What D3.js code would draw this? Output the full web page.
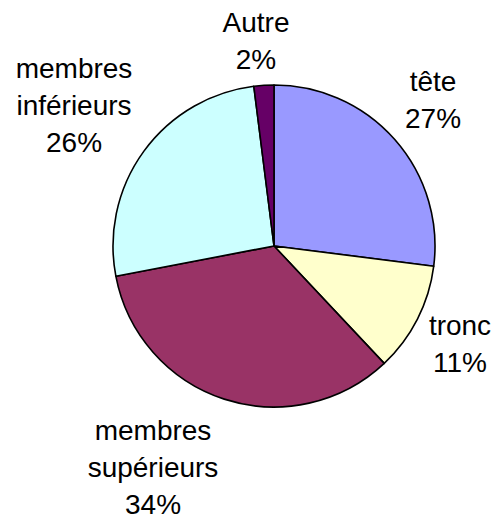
<!DOCTYPE html>
<html>
<head>
<meta charset="utf-8">
<script src="https://cdn.jsdelivr.net/npm/d3@7"></script>
<style>
  html, body { margin: 0; padding: 0; background: #fff; }
  svg { display: block; }
  text { font-family: "Liberation Sans", Arial, sans-serif; font-size: 28px; fill: #000; }
</style>
</head>
<body>
<div id="chart"></div>
<script>
// parts of the body, clockwise from 12 o'clock
const categories = ["tête", "tronc", "membres supérieurs", "membres inférieurs", "Autre"];
const labelLines = [["tête"], ["tronc"], ["membres", "supérieurs"], ["membres", "inférieurs"], ["Autre"]];
const values = [27, 11, 34, 26, 2];

(function () {
  const width = 493;
  const height = 523;
  const cx = 274;
  const cy = 246;
  const radius = 161;
  const lineHeight = 37;

  const colors = d3.scaleOrdinal()
    .domain(categories)
    .range(["#9999ff", "#ffffcc", "#993366", "#ccffff", "#660066"]);

  // offset of each label block (centre x, first baseline) from the pie centre
  const labelOffset = {
    "tête": [159, -155],
    "tronc": [186, 89],
    "membres supérieurs": [-121, 194],
    "membres inférieurs": [-200, -168],
    "Autre": [-18, -214],
  };

  const svg = d3.select("#chart")
    .append("svg")
    .attr("width", width)
    .attr("height", height);

  const data = categories.map((c, i) => ({ name: c, value: values[i], lines: labelLines[i] }));

  const pie = d3.pie().value((d) => d.value).sort(null);
  const arc = d3.arc().innerRadius(0).outerRadius(radius);

  const g = svg.append("g").attr("transform", `translate(${cx},${cy})`);

  g.selectAll("path")
    .data(pie(data))
    .join("path")
    .attr("d", arc)
    .attr("fill", (d) => colors(d.data.name))
    .attr("stroke", "#000")
    .attr("stroke-width", 1.6)
    .attr("stroke-linejoin", "round");

  const labels = g.selectAll("text.label")
    .data(pie(data))
    .join("text")
    .attr("class", "label")
    .attr("text-anchor", "middle")
    .attr("transform", (d) => {
      const o = labelOffset[d.data.name];
      return `translate(${o[0]},${o[1]})`;
    });

  labels.each(function (d) {
    const t = d3.select(this);
    const lines = d.data.lines.concat([`${d.data.value}%`]);
    lines.forEach((line, i) => {
      t.append("tspan").attr("x", 0).attr("y", i * lineHeight).text(line);
    });
  });
})();
</script>
</body>
</html>
